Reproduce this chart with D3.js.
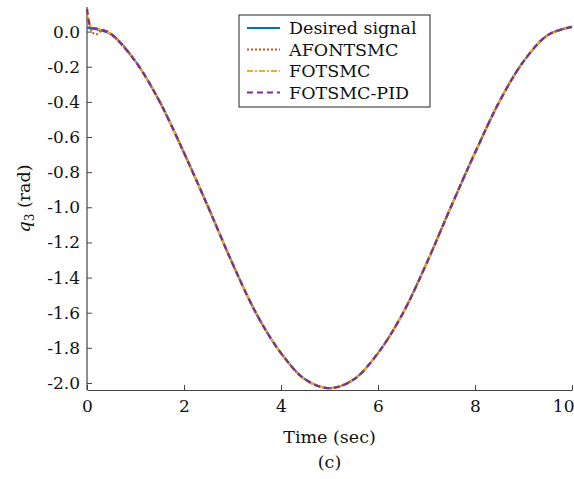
<!DOCTYPE html>
<html>
<head>
<meta charset="utf-8">
<script src="https://cdn.jsdelivr.net/npm/d3@7"></script>
<style>
  body { margin: 0; background: #fff; }
  text { font-family: "DejaVu Serif", serif; }
</style>
</head>
<body>
<div id="viz"></div>
<script>
const width = 574;
const height = 479;
const margin = {top: 7, right: 2, bottom: 89, left: 87};

// time grid (sec) and desired q3 (rad)
const time = [0, 0.5, 1, 1.5, 2, 2.5, 3, 3.5, 4, 4.5, 5, 5.5, 6, 6.5, 7, 7.5, 8, 8.5, 9, 9.5, 10];
const desired = [0.023, -0.015, -0.17, -0.40, -0.69, -1.00, -1.32, -1.61, -1.83, -1.98, -2.03,
                 -1.98, -1.83, -1.61, -1.32, -1.00, -0.69, -0.40, -0.17, -0.02, 0.027];

// start-up transients of the controllers, then they follow the desired signal
const afontsmcT = [0, 0.04, 0.1, 0.15, 0.2, 0.27, 0.35];
const afontsmcV = [0.08, 0.05, 0.0, -0.012, -0.015, 0.0, 0.01];
const fotsmcT = [0, 0.03, 0.06, 0.1, 0.2, 0.3];
const fotsmcV = [0.13, 0.08, 0.04, 0.022, 0.017, 0.01];
const pidT = [0, 0.03, 0.06, 0.1, 0.2, 0.3];
const pidV = [0.13, 0.07, 0.035, 0.022, 0.017, 0.01];

const xTicks = [0, 2, 4, 6, 8, 10];
const yTicks = [0.0, -0.2, -0.4, -0.6, -0.8, -1.0, -1.2, -1.4, -1.6, -1.8, -2.0];

const labels = ['Desired signal', 'AFONTSMC', 'FOTSMC', 'FOTSMC-PID'];
const colors = ['#0072BD', '#D95319', '#EDB120', '#7E2F8E'];
const dashes = ['none', '2,2', '6,2,2,2', '6,4'];

function track(ts, vs) {
    const pts = ts.map((t, i) => [t, vs[i]]);
    time.forEach((t, i) => { if (t >= 0.5) pts.push([t, desired[i]]); });
    return pts;
}

const series = [
    time.map((t, i) => [t, desired[i]]),
    track(afontsmcT, afontsmcV),
    track(fotsmcT, fotsmcV),
    track(pidT, pidV)
];

const x = d3.scaleLinear().domain([0, 10]).range([margin.left, width - margin.right]);
const y = d3.scaleLinear().domain([-2.04, 0.14]).range([height - margin.bottom, margin.top]);

const svg = d3.select('#viz').append('svg')
    .attr('width', width)
    .attr('height', height);

// axes (ticks point inward)
const xAxis = svg.append('g')
    .attr('transform', `translate(0,${height - margin.bottom})`)
    .call(d3.axisBottom(x).tickValues(xTicks).tickSize(-5).tickPadding(10).tickSizeOuter(0));
const yAxis = svg.append('g')
    .attr('transform', `translate(${margin.left},0)`)
    .call(d3.axisLeft(y).tickValues(yTicks).tickSize(-5).tickPadding(7).tickSizeOuter(0)
        .tickFormat(d => d3.format('.1f')(d).replace('−', '-')));

[xAxis, yAxis].forEach(g => {
    g.select('.domain').attr('stroke', '#444').attr('stroke-width', 1.2);
    g.selectAll('.tick line').attr('stroke', '#444');
    g.selectAll('.tick text').attr('fill', '#111').style('font-size', '17px')
        .style('font-family', '"DejaVu Serif", serif');
});
yAxis.select('.domain').attr('d', `M0,${height - margin.bottom}V${margin.top}`);
// last x label sits inside the page edge
xAxis.selectAll('.tick text').filter(d => d === 10).attr('text-anchor', 'end').attr('dx', 2);

// lines
const line = d3.line()
    .x(d => x(d[0]))
    .y(d => y(d[1]))
    .curve(d3.curveCatmullRom.alpha(0.5));

svg.append('g').selectAll('path')
    .data(series)
    .join('path')
        .attr('d', d => line(d))
        .attr('fill', 'none')
        .attr('stroke', (d, i) => colors[i])
        .attr('stroke-width', 2.2)
        .attr('stroke-dasharray', (d, i) => dashes[i]);

// legend
const legend = svg.append('g').attr('transform', 'translate(239,15)');
legend.append('rect')
    .attr('width', 191).attr('height', 92)
    .attr('fill', '#fff').attr('stroke', '#222').attr('stroke-width', 1);
labels.forEach((lab, i) => {
    const yy = 13 + i * 21.5;
    legend.append('line')
        .attr('x1', 8).attr('x2', 41).attr('y1', yy).attr('y2', yy)
        .attr('stroke', colors[i]).attr('stroke-width', 2.2)
        .attr('stroke-dasharray', dashes[i]);
    legend.append('text')
        .attr('x', 50).attr('y', yy + 6)
        .style('font-size', '17.5px')
        .attr('fill', '#111')
        .text(lab);
});

// axis titles
svg.append('text')
    .attr('x', (margin.left + width - margin.right) / 2)
    .attr('y', 443)
    .attr('text-anchor', 'middle')
    .style('font-size', '17.5px')
    .attr('fill', '#111')
    .text('Time (sec)');
svg.append('text')
    .attr('x', (margin.left + width - margin.right) / 2)
    .attr('y', 468)
    .attr('text-anchor', 'middle')
    .style('font-size', '17.5px')
    .attr('fill', '#111')
    .text('(c)');

const yl = svg.append('text')
    .attr('transform', `translate(30,${(margin.top + height - margin.bottom) / 2}) rotate(-90)`)
    .attr('text-anchor', 'middle')
    .style('font-size', '17.5px')
    .attr('fill', '#111');
yl.append('tspan').style('font-style', 'italic').text('q');
yl.append('tspan').attr('dy', 4).style('font-size', '12px').text('3');
yl.append('tspan').attr('dy', -4).text(' (rad)');
</script>
</body>
</html>
